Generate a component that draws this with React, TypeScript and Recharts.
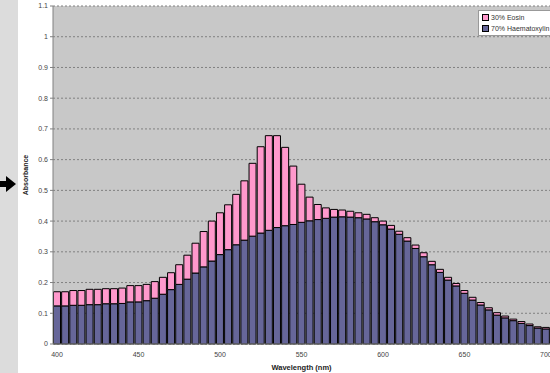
import React from 'react';
import { BarChart, Bar, XAxis, YAxis, CartesianGrid, Label } from 'recharts';

const wavelengths = [
  400, 405, 410, 415, 420, 425, 430, 435, 440, 445,
  450, 455, 460, 465, 470, 475, 480, 485, 490, 495,
  500, 505, 510, 515, 520, 525, 530, 535, 540, 545,
  550, 555, 560, 565, 570, 575, 580, 585, 590, 595,
  600, 605, 610, 615, 620, 625, 630, 635, 640, 645,
  650, 655, 660, 665, 670, 675, 680, 685, 690, 695, 700,
];

const haematoxylin = [
  0.124, 0.124, 0.126, 0.126, 0.128, 0.128, 0.131, 0.131, 0.132, 0.137,
  0.137, 0.141, 0.149, 0.162, 0.177, 0.194, 0.211, 0.231, 0.251, 0.270,
  0.291, 0.307, 0.323, 0.338, 0.351, 0.361, 0.370, 0.379, 0.385, 0.389,
  0.396, 0.401, 0.405, 0.409, 0.413, 0.414, 0.413, 0.411, 0.407, 0.398,
  0.388, 0.374, 0.357, 0.335, 0.311, 0.284, 0.258, 0.233, 0.208, 0.189,
  0.165, 0.143, 0.127, 0.111, 0.094, 0.085, 0.076, 0.067, 0.060, 0.052, 0.049,
];

const eosin = [
  0.046, 0.046, 0.048, 0.048, 0.050, 0.050, 0.049, 0.049, 0.050, 0.053,
  0.053, 0.053, 0.054, 0.055, 0.055, 0.064, 0.078, 0.097, 0.115, 0.130,
  0.136, 0.146, 0.164, 0.193, 0.237, 0.281, 0.308, 0.299, 0.255, 0.190,
  0.124, 0.077, 0.049, 0.034, 0.025, 0.022, 0.019, 0.016, 0.015, 0.013,
  0.012, 0.012, 0.010, 0.011, 0.011, 0.013, 0.011, 0.010, 0.009, 0.008,
  0.009, 0.009, 0.008, 0.007, 0.008, 0.006, 0.005, 0.006, 0.005, 0.004, 0.005,
];

const yTicks = [0, 0.1, 0.2, 0.3, 0.4, 0.5, 0.6, 0.7, 0.8, 0.9, 1, 1.1];

const data = wavelengths.map((w, i) => ({
  wavelength: w,
  haematoxylin: haematoxylin[i],
  eosin: eosin[i],
}));

const FONT = '"Liberation Sans", Arial, sans-serif';

const legendItems = [
  { name: '30% Eosin', color: '#ff99cc' },
  { name: '70% Haematoxylin', color: '#666699' },
];

const LegendBox = () => (
  <div
    style={{
      position: 'absolute',
      left: 478,
      top: 10,
      background: '#fff',
      border: '1px solid #999',
      padding: '1px 3px',
      width: 80,
      fontFamily: FONT,
      fontSize: 7,
      color: '#333',
      lineHeight: '11px',
    }}
  >
    {legendItems.map(item => (
      <div key={item.name} style={{ display: 'flex', alignItems: 'center' }}>
        <span
          style={{
            display: 'inline-block',
            width: 5,
            height: 5,
            background: item.color,
            border: '1px solid #000',
            marginRight: 2,
          }}
        />
        {item.name}
      </div>
    ))}
  </div>
);

const App = () => {
  return (
    <div style={{ position: 'absolute', left: 0, top: 0, width: 550, height: 373, background: '#fff', overflow: 'hidden' }}>
      {/* grey strip and arrow on the left */}
      <div style={{ position: 'absolute', left: 0, top: 0, width: 18, height: 373, background: '#dcdcdc' }} />
      <svg style={{ position: 'absolute', left: 0, top: 0 }} width={20} height={373}>
        <polygon points="0,181 6,181 6,176 16,184 6,192 6,187 0,187" fill="#000" />
      </svg>
      <div style={{ position: 'absolute', left: 0, top: 0 }}>
        <BarChart
          width={550}
          height={373}
          data={data}
          margin={{ top: 6, right: 0, left: 0, bottom: 0 }}
          barCategoryGap={0.5}
        >
          <CartesianGrid
            vertical={false}
            stroke="#808080"
            strokeDasharray="2 2"
            fill="#c8c8c8"
          />
          <XAxis
            dataKey="wavelength"
            interval={9}
            height={29}
            tickLine={false}
            axisLine={{ stroke: '#808080' }}
            tick={{ fontSize: 7, fill: '#444', fontFamily: FONT }}
            tickMargin={2}
          >
            <Label
              value="Wavelength (nm)"
              position="insideBottom"
              offset={3}
              style={{ fontSize: 7.5, fontWeight: 'bold', fill: '#222', fontFamily: FONT }}
            />
          </XAxis>
          <YAxis
            domain={[0, 1.1]}
            ticks={yTicks}
            width={53}
            interval={0}
            tickSize={3}
            axisLine={{ stroke: '#808080' }}
            tickLine={{ stroke: '#808080' }}
            tick={{ fontSize: 7, fill: '#444', fontFamily: FONT }}
          >
            <Label
              value="Absorbance"
              angle={-90}
              position="insideLeft"
              offset={26}
              style={{ fontSize: 7, fontWeight: 'bold', fill: '#222', fontFamily: FONT, textAnchor: 'middle' }}
            />
          </YAxis>
          <Bar
            dataKey="haematoxylin"
            name="70% Haematoxylin"
            stackId="a"
            fill="#666699"
            stroke="#000"
            strokeWidth={1}
            isAnimationActive={false}
          />
          <Bar
            dataKey="eosin"
            name="30% Eosin"
            stackId="a"
            fill="#ff99cc"
            stroke="#000"
            strokeWidth={1}
            isAnimationActive={false}
          />
        </BarChart>
      </div>
      <LegendBox />
    </div>
  );
};

export default App;
